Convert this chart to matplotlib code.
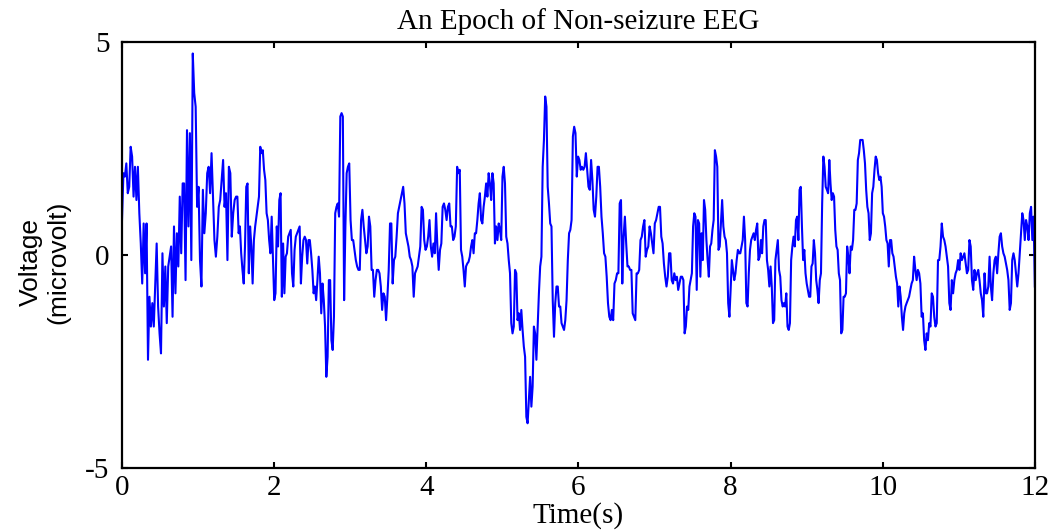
import numpy as np
import matplotlib.pyplot as plt

plt.rcParams['axes.unicode_minus'] = False

seg_edges = [0, 1.50, 2.97, 4.44, 5.91, 7.38, 8.86, 10.33, 12.0]

v1 = [0.82, 1.92, 1.84, 2.15, 1.45, 1.6, 2.54, 2.31, 1.37, 2.07, 1.29, 2.07, 0.98, 0.27,
      -0.67, 0.74, -0.43, 0.74, -2.46, -0.98, -1.68, -1.13, -1.68, -0.74, 0.27, -1.21,
      -1.84, -2.31, 0.04, -1.21, -0.27, -1.6, -0.27, -0.04, 0.2, -1.45, 0.67, -0.9, 0.51,
      -0.27, 1.37, 0.04, 1.68, 1.68, -0.59, 2.93, 0.67, 2.86, -0.12, 4.73, 3.8, 3.48, 1.13,
      1.6, -0.12, -0.74, 1.53, 0.51, 0.98, 1.92, 2.07, 1.45, 2.39, 1.37, 0.35, -0.04, 0.43,
      1.13, 1.29, 1.76, 2.23, 1.13, 1.45, -0.12, 2.07, 1.92, 0.43, 0.98, 1.29]

v2 = [1.37, 1.37, 0.51, 0.67, 0.04, -0.35, -0.67, 0.2, 1.6, 1.68, -0.43, 0.67, 0.2, -0.67,
      0.35, 0.67, 0.9, 1.13, 1.37, 2.54, 2.39, 2.46, 2.0, 1.76, 0.98, 0.82, 0.35, 0.04, 0.9,
      -0.12, -1.06, -0.9, 0.67, 0.2, 1.29, 1.45, -0.98, 0.27, -0.9, -0.04, 0.04, 0.43, 0.51,
      0.59, -0.43, -0.74, 0.12, 0.43, 0.51, 0.59, 0.67, -0.67, -0.04, 0.35, 0.43, 0.35, -0.2,
      0.35, 0.35, 0.04, -0.35, -0.9, -0.74, -1.06, -0.59, -0.04, -0.43, -1.37, -0.67, -1.06,
      -1.68, -2.86, -2.39, -0.59, -0.59, -2.0, -2.23, -1.45, 0.98, 1.13, 1.21, 0.9, 3.25,
      3.33, 3.25, -1.06, 0.67, 1.92]

v3 = [2.07, 2.15, 0.82, 0.35, 0.35, 0.12, -0.12, -0.27, -0.35, -0.35, 0.82, 1.06, 0.67,
      0.35, 0.04, 0.2, 0.9, 0.67, -0.35, -0.35, -0.98, -0.59, -0.35, -0.35, -0.43, -0.74,
      -1.29, -0.9, -0.98, -1.53, -0.98, -0.35, 0.74, 0.74, -0.67, -0.12, -0.04, 0.43, 0.98,
      1.13, 1.29, 1.45, 1.6, 1.21, 0.51, 0.35, 0.2, -0.04, -0.12, -0.27, -0.98, -0.43, -0.35,
      -0.27, -0.04, 0.2, 1.13, 1.06, 0.35, 0.12, 0.2, 0.43, 0.82, 0.2, -0.04, 0.27, 0.04,
      0.98, 0.2, -0.35, 0.12, 0.27, 1.13, 1.21, 1.06, 0.82, 1.13, 1.21, 0.67, 0.67, 0.35,
      0.43, 0.67, 2.07, 1.92]

v4 = [2.0, 0.12, -0.04, -0.35, -0.74, -0.27, -0.2, -0.16, -0.04, 0.2, 0.35, 0.04, 0.51,
      0.51, 0.82, 1.21, 1.45, 0.82, 0.74, 1.13, 1.37, 1.68, 1.37, 1.92, 1.68, 1.29, 1.92,
      1.68, 0.27, 0.67, 0.35, 0.74, 0.59, 0.35, 1.84, 2.07, 1.68, 0.43, 0.27, -0.12, -0.43,
      -1.6, -1.84, -1.68, -0.35, -0.43, -1.53, -1.37, -1.76, -1.29, -1.76, -2.15, -2.39,
      -3.8, -3.95, -3.4, -2.86, -3.56, -3.09, -1.68, -1.84, -2.46, -1.68, -0.9, -0.27, -0.04,
      2.07, 2.7, 3.72, 3.48, 1.6, 1.21, 0.74, 0.67, -1.06, -1.92, -1.13, -0.74, -0.74, -1.21,
      -1.21, -1.6, -1.68, -1.76, -1.53, -1.06, -0.12, 0.51, 0.59]

v5 = [0.82, 2.78, 3.01, 2.86, 1.84, 2.31, 2.23, 2.0, 2.07, 2.0, 2.07, 2.39, 2.0, 1.6, 1.53,
      2.23, 1.76, 1.06, 0.9, 1.37, 2.07, 2.07, 1.6, 0.9, 0.51, 0.04, -0.04, -0.51, -1.13,
      -1.45, -1.53, -1.29, -1.53, -0.67, -0.59, -0.43, -0.43, 1.21, 1.29, -0.67, 0.43, 0.9,
      0.27, -0.27, -0.27, -0.35, -0.35, -1.37, -1.45, -1.53, -0.43, -0.43, -0.35, 0.35, 0.43,
      0.67, 0.82, -0.04, 0.12, 0.2, 0.67, 0.51, 0.27, 0.04, 0.74, 0.82, 0.98, 1.13, 1.13,
      0.43, 0.27, -0.2, -0.51, -0.74, -0.51, 0.04, 0.04, -0.59, -0.67, -0.43, -0.59, -0.51,
      -0.82, -0.67, -0.51, -0.51]

v6 = [-0.59, -1.84, -1.68, -1.21, -1.29, -0.74, -0.59, -0.43, 0.67, 0.98, 0.9, -0.82, 0.82,
      0.74, -0.51, 0.51, -0.12, 1.29, 1.06, 0.35, -0.12, -0.51, 0.2, 0.27, 0.59, 0.82, 2.46,
      2.31, 2.07, 0.12, 0.2, 0.74, 1.29, 0.67, 0.43, 0.35, 0.04, -1.13, -1.45, -0.82, -0.12,
      -0.35, -0.59, -0.43, -0.12, 0.12, 0.04, 0.04, 0.2, 0.35, 0.9, 0.35, -1.13, -1.21, -0.43,
      0.12, 0.35, 0.43, 0.51, 0.35, 0.59, 0.74, -0.12, -0.04, 0.35, 0.04, 0.67, 0.82, 0.82,
      -0.12, -0.35, -0.74, -0.27, -0.74, -1.6, -1.53, -0.12, 0.12, 0.35, -0.35, -0.51, -1.06,
      -1.21, -1.13, -1.21, -0.9, -1.68, -1.76, -1.6, -0.12, 0.2, 0.43, 0.2]

v7 = [0.82, 0.9, 0.35, 1.53, 1.6, 0.67, -0.12, 0.12, -0.43, -0.67, -0.82, -0.98, -0.98,
      -0.27, -0.2, 0.35, 0.04, -0.59, -0.82, -1.13, -0.59, -0.43, 1.21, 2.31, 2.07, 1.6,
      1.53, 1.45, 2.23, 1.68, 1.29, 1.45, 1.37, 0.59, 0.2, 0.12, -0.43, -0.59, -1.84, -1.76,
      -0.98, -0.98, -0.9, 0.2, -0.04, -0.43, 0.2, 0.12, 0.35, 1.06, 1.06, 1.21, 2.23, 2.39,
      2.7, 2.7, 2.7, 2.46, 2.15, 1.53, 1.13, 0.98, 0.35, 0.51, 1.45, 1.6, 2.0, 2.31, 2.23,
      1.92, 1.76, 1.84, 1.6, 0.98, 0.9, 0.67, 0.35, 0.27, -0.27, 0.35, 0.35, 0.04, -0.04,
      -0.27, -0.51, -0.67, -1.21, -0.74, -0.98, -1.45, -1.76, -1.37, -1.21, -1.13]

v8 = [-1.06, -0.98, -0.82, -0.67, -0.59, -0.04, -0.35, -0.59, -0.35, -0.43, -0.67, -1.45,
      -1.37, -2.0, -2.23, -1.84, -2.0, -1.6, -1.68, -0.9, -0.98, -1.45, -1.68, -1.6, -0.12,
      -0.12, 0.2, 0.74, 0.43, 0.35, 0.2, -0.04, -0.27, -1.13, -1.29, -0.59, -0.9, -0.59,
      -0.43, -0.35, -0.12, -0.35, 0.04, -0.12, -0.04, 0.04, -0.2, -0.43, -0.35, 0.35, 0.2,
      -0.59, -0.82, -0.35, -0.59, -0.43, -0.35, -0.59, -0.9, -1.06, -1.45, -0.43, -0.9, -0.9,
      -0.74, -0.04, -0.74, -1.06, -0.43, -0.12, -0.04, -0.43, 0.04, 0.43, 0.51, 0.2, 0.04,
      -0.04, -0.2, -0.35, -0.59, -1.29, -1.13, -0.12, 0.04, -0.12, -0.43, -0.74, -0.43, 0.04,
      0.51, 0.98, 0.82, 0.35, 0.82, 0.67, 0.35, 0.98, 1.13, 0.35, 0.9, -0.74]

segments = [v1, v2, v3, v4, v5, v6, v7, v8]

t_parts = []
for i, seg in enumerate(segments):
    last = (i == len(segments) - 1)
    t_parts.append(np.linspace(seg_edges[i], seg_edges[i + 1], len(seg), endpoint=last))
t = np.concatenate(t_parts)
voltage = np.concatenate([np.array(s) for s in segments])

serif = ['Liberation Serif', 'DejaVu Serif']

fig = plt.figure(figsize=(10.59, 5.30), dpi=100)
ax = fig.add_axes([0.1152, 0.117, 0.862, 0.8038])

ax.plot(t, voltage, color='#0000ff', linewidth=1.5)

ax.set_xlim(0, 12)
ax.set_ylim(-5, 5)
ax.set_xticks([0, 2, 4, 6, 8, 10, 12])
ax.set_yticks([-5, 0, 5])
ax.tick_params(direction='in', length=4, width=1.5, top=True, right=True,
               labelsize=21, pad=5)
ax.tick_params(axis='y', pad=9)
for lab in ax.get_xticklabels() + ax.get_yticklabels():
    lab.set_family(serif)
for sp in ax.spines.values():
    sp.set_linewidth(1.6)

ax.set_title('An Epoch of Non-seizure EEG', family=serif, fontsize=21, pad=9)
ax.set_xlabel('Time(s)', family=serif, fontsize=21, labelpad=1)
fig.text(0.042, 0.505, 'Voltage\n(microvolt)', rotation=90, ha='center', va='center',
         multialignment='center', family=['Liberation Sans', 'DejaVu Sans'],
         fontsize=19, linespacing=1.15)

plt.savefig('out.png', dpi=100)
